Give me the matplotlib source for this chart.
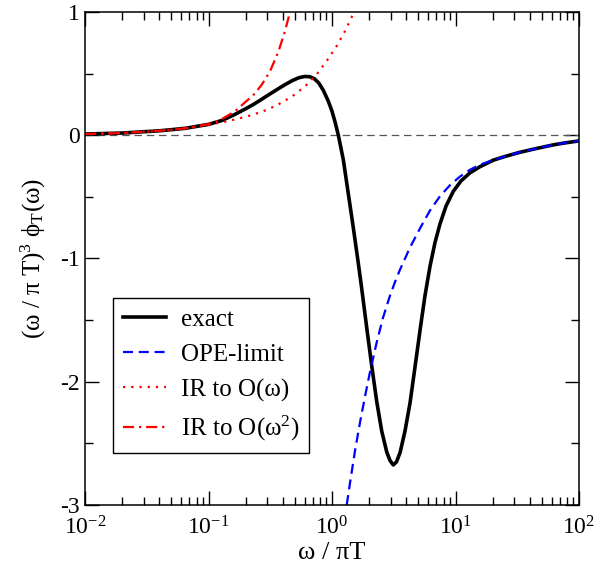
import matplotlib
matplotlib.use("Agg")
import matplotlib.pyplot as plt

plt.rcParams["font.family"] = ["Liberation Serif", "DejaVu Serif"]
plt.rcParams["mathtext.fontset"] = "custom"
plt.rcParams["mathtext.rm"] = "Liberation Serif"
plt.rcParams["mathtext.it"] = "Liberation Serif:italic"
plt.rcParams["mathtext.bf"] = "Liberation Serif:bold"

# exact result
w_exact = [0.0100, 0.0200, 0.0400, 0.0645, 0.100, 0.130, 0.164, 0.200, 0.231, 0.260,
           0.300, 0.360, 0.420, 0.480, 0.540, 0.600, 0.660, 0.720, 0.780, 0.850,
           0.930, 1.000, 1.060, 1.125, 1.235, 1.355, 1.487, 1.633, 1.740, 1.909,
           2.096, 2.301, 2.525, 2.773, 2.950, 3.133, 3.327, 3.556, 3.899, 4.285,
           4.699, 5.164, 5.662, 6.223, 6.823, 7.482, 8.375, 9.594, 11.09, 13.09,
           15.78, 20.23, 25.18, 33.27, 44.06, 61.94, 77.09, 100.0]
y_exact = [0.010, 0.018, 0.036, 0.056, 0.088, 0.122, 0.170, 0.215, 0.250, 0.282,
           0.322, 0.372, 0.413, 0.445, 0.467, 0.477, 0.475, 0.458, 0.425, 0.365,
           0.280, 0.195, 0.105, 0.0, -0.200, -0.475, -0.750, -1.040, -1.245, -1.560,
           -1.870, -2.160, -2.400, -2.570, -2.640, -2.675, -2.650, -2.575, -2.400, -2.170,
           -1.880, -1.580, -1.300, -1.060, -0.870, -0.720, -0.575, -0.455, -0.370, -0.305,
           -0.255, -0.202, -0.172, -0.138, -0.110, -0.078, -0.062, -0.046]

# OPE limit
w_ope = [1.315, 1.399, 1.535, 1.685, 1.849, 2.030, 2.301, 2.588, 2.950, 3.237,
         3.553, 4.283, 5.160, 6.218, 7.483, 9.020, 10.87, 13.10, 15.79, 20.23,
         25.18, 33.27, 44.06, 61.94, 77.09, 100.0]
y_ope = [-3.0, -2.82, -2.56, -2.33, -2.12, -1.92, -1.68, -1.48, -1.30, -1.19,
         -1.09, -0.91, -0.755, -0.61, -0.495, -0.405, -0.335, -0.28, -0.238, -0.202,
         -0.172, -0.138, -0.110, -0.078, -0.062, -0.046]

# IR expansion to O(w)
w_ir1 = [0.0100, 0.0200, 0.0400, 0.0645, 0.100, 0.149, 0.204, 0.278, 0.357, 0.472,
         0.604, 0.752, 0.906, 1.092, 1.274, 1.444, 1.520]
y_ir1 = [0.010, 0.018, 0.036, 0.055, 0.085, 0.118, 0.152, 0.195, 0.243, 0.313,
         0.395, 0.495, 0.603, 0.725, 0.845, 0.960, 1.010]

# IR expansion to O(w^2)
w_ir2 = [0.0100, 0.0200, 0.0400, 0.0645, 0.100, 0.124, 0.164, 0.231, 0.270, 0.315,
         0.367, 0.416, 0.457, 0.470]
y_ir2 = [0.010, 0.018, 0.036, 0.056, 0.090, 0.122, 0.195, 0.327, 0.410, 0.520,
         0.675, 0.845, 1.000, 1.050]

fig = plt.figure(figsize=(5.97, 5.69), dpi=100)
ax = fig.add_axes([0.1424, 0.1125, 0.8275, 0.8664])

ax.axhline(0, color="#555555", lw=0.9, ls=(0, (6, 3.8)))
ax.plot(w_exact, y_exact, color="black", lw=2.6, label="exact")
ax.plot(w_ope, y_ope, color="blue", lw=1.6, ls=(0, (4.5, 2.6)), label="OPE-limit")
ax.plot(w_ir1, y_ir1, color="red", lw=1.6, ls=(0, (1, 2.7)), label="IR to O(ω)")
ax.plot(w_ir2, y_ir2, color="red", lw=1.6, ls=(0, (5, 2.2, 1, 2.2)),
        label="IR to O(ω$^2$)")

ax.set_xscale("log")
ax.set_xlim(1e-2, 1e2)
ax.set_ylim(-3, 1)
ax.set_yticks([-3, -2, -1, 0, 1])
ax.set_yticklabels(["-3", "-2", "-1", "0", "1"])
ax.set_yticks([-2.5, -1.5, -0.5, 0.5], minor=True)

ax.tick_params(which="both", direction="in", top=True, right=True, labelsize=17)
ax.tick_params(which="major", length=10, width=1)
ax.tick_params(which="minor", length=5.5, width=1)
ax.tick_params(axis="x", which="both", pad=8)
for s in ax.spines.values():
    s.set_linewidth(1.1)

ax.set_xlabel("ω / πT", fontsize=19, labelpad=2)
ax.set_ylabel("(ω / π T)$^3$ ϕ$_\\mathrm{T}$(ω)", fontsize=18, labelpad=9)

leg = ax.legend(loc="lower left", bbox_to_anchor=(0.057, 0.105), borderaxespad=0,
                fontsize=18, fancybox=False, edgecolor="black", framealpha=1,
                handlelength=1.7, handletextpad=0.6, labelspacing=0.5,
                borderpad=0.4)
leg.get_frame().set_linewidth(1.0)

fig.savefig("out.png", dpi=100)
